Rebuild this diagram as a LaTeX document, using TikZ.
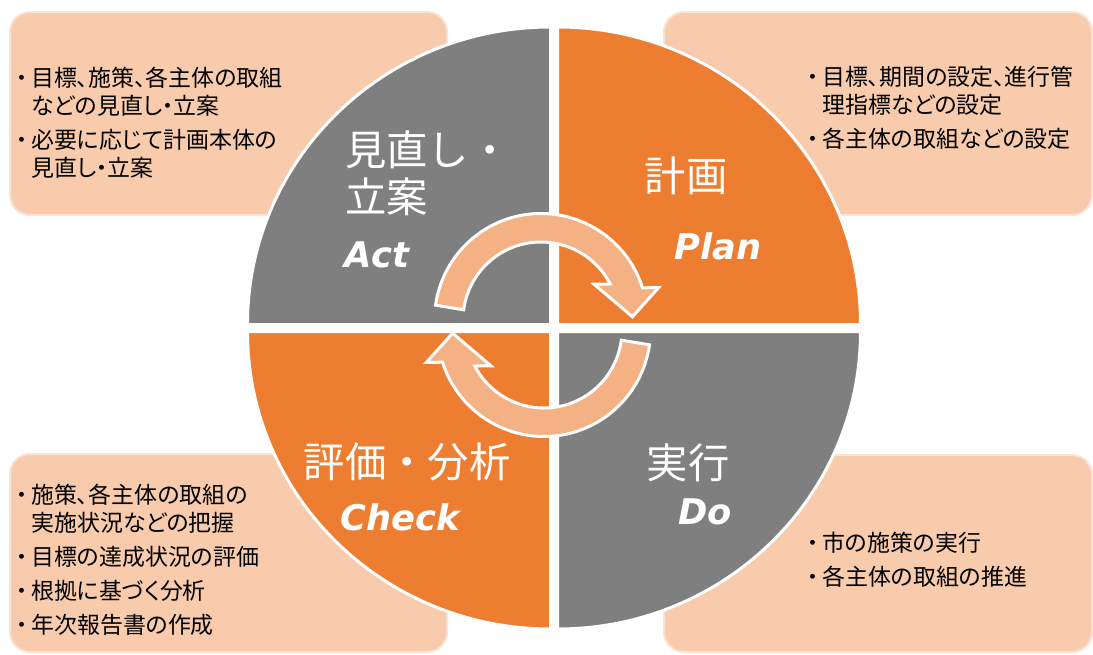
\documentclass[tikz,border=0pt]{standalone}
\usepackage{fontspec}
\setmainfont{Noto Sans CJK JP}[RawFeature=+palt]
\newfontfamily\jpfont{Noto Sans CJK JP}
\newfontfamily\enfont{DejaVu Sans}
\usetikzlibrary{calc}
\definecolor{qgray}{HTML}{7F7F7F}
\definecolor{qorg}{HTML}{ED7D31}
\definecolor{boxfill}{HTML}{F8CBAD}
\definecolor{boxline}{HTML}{FBE3D3}
\definecolor{arw}{HTML}{F4B183}
\newcommand\itm{\llap{\makebox[0.8em][c]{・}}}

\begin{document}
\begin{tikzpicture}[
  x=0.75pt, y=0.75pt,
  note/.style={rounded corners=15pt, fill=boxfill, draw=boxline, line width=1.5pt},
  quad/.style={draw=white, line width=2.25pt},
  cyc/.style={fill=arw, draw=white, line width=2.25pt, line join=miter},
  items/.style={align=left, anchor=west, inner sep=0pt, text=black,
    font=\fontsize{17.2}{21}\selectfont},
  jlab/.style={text=white, inner sep=0pt, font=\jpfont\fontsize{31}{35.25}\selectfont},
  elab/.style={text=white, inner sep=0pt, font=\enfont\bfseries\itshape\fontsize{26.5}{30}\selectfont}
]
\useasboundingbox (0,0) rectangle (1093,-654);
\def\rx{303} \def\ry{297.5}
\def\R{106.5} \def\r{78}

% boxes
\draw[note] (10,-12) rectangle (447,-215);
\draw[note] (664,-12) rectangle (1092,-215);
\draw[note] (10,-454) rectangle (447,-652);
\draw[note] (664,-455) rectangle (1092,-652);

% quadrants
\filldraw[quad, fill=qgray] (550.5,-324.5) -- ++(-\rx,0)
  arc[start angle=180, end angle=90, x radius=\rx, y radius=\ry] -- cycle;
\filldraw[quad, fill=qorg] (557.5,-324.5) -- ++(0,\ry)
  arc[start angle=90, end angle=0, x radius=\rx, y radius=\ry] -- cycle;
\filldraw[quad, fill=qorg] (550.5,-331.5) -- ++(0,-\ry)
  arc[start angle=270, end angle=180, x radius=\rx, y radius=\ry] -- cycle;
\filldraw[quad, fill=qgray] (557.5,-331.5) -- ++(\rx,0)
  arc[start angle=0, end angle=-90, x radius=\rx, y radius=\ry] -- cycle;

% cycle arrows
\begin{scope}[shift={(541,-320)}]
  \filldraw[cyc] (172:\R) arc[start angle=172, end angle=17.6, radius=\R]
    -- (15.4:122) -- (2:91.5) -- (34:64) -- (27.5:\r)
    arc[start angle=27.5, end angle=172.5, radius=\r] -- cycle;
\end{scope}
\begin{scope}[shift={(544,-330)}, rotate=180]
  \filldraw[cyc] (172:\R) arc[start angle=172, end angle=17.6, radius=\R]
    -- (15.4:122) -- (2:91.5) -- (34:64) -- (27.5:\r)
    arc[start angle=27.5, end angle=172.5, radius=\r] -- cycle;
\end{scope}

% quadrant labels
\node[jlab, align=left, anchor=west] (actJ) at (345,-173.5) {見直し・\\立案};
\node[elab] (actE) at (377,-255) {Act};
\node[jlab] (planJ) at (686,-176) {計画};
\node[elab] (planE) at (718,-246) {Plan};
\node[jlab] (checkJ) at (407,-462) {評価・分析};
\node[elab] (checkE) at (400,-517) {Check};
\node[jlab] (doJ) at (688,-463) {実行};
\node[elab] (doE) at (705,-512) {Do};

% box texts
\node[items] (actTxt) at (31,-123) {\itm 目標、施策、各主体の取組\\などの見直し・立案\\[4.5pt]
  \itm 必要に応じて計画本体の\\見直し・立案};
\node[items] (planTxt) at (822,-108) {\itm 目標、期間の設定、進行管\\理指標などの設定\\[4.5pt]
  \itm 各主体の取組などの設定};
\node[items] (checkTxt) at (31,-560) {\itm 施策、各主体の取組の\\実施状況などの把握\\[4.5pt]
  \itm 目標の達成状況の評価\\[4.5pt]\itm 根拠に基づく分析\\[4.5pt]\itm 年次報告書の作成};
\node[items] (doTxt) at (822,-560) {\itm 市の施策の実行\\[4.5pt]\itm 各主体の取組の推進};
\end{tikzpicture}
\end{document}
